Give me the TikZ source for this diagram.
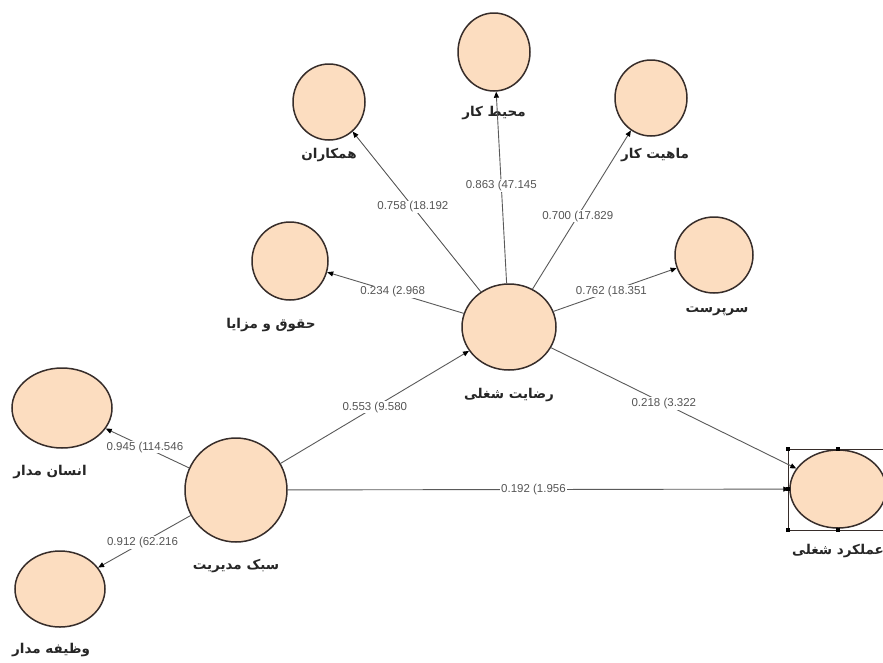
\documentclass[tikz,border=0pt]{standalone}
\usepackage{fontspec}
\setmainfont{Liberation Sans}
\newfontfamily\arabicfont[Script=Arabic]{DejaVu Sans}
\TeXXeTstate=1
\usetikzlibrary{shapes.geometric,arrows.meta}
\definecolor{peach}{RGB}{252,221,192}
\definecolor{rim}{RGB}{55,45,42}
\definecolor{wire}{RGB}{90,90,90}
\definecolor{numc}{RGB}{85,85,85}
\begin{document}
\begin{tikzpicture}[x=1pt,y=-1pt,
  lv/.style={ellipse,draw=rim,line width=1.5pt,fill=peach,inner sep=0pt},
  nm/.style={font=\arabicfont\bfseries\fontsize{13.5}{16}\selectfont,text=black!85},
  wt/.style={fill=white,inner sep=1pt,font=\fontsize{11.5}{13}\selectfont,text=numc},
  ar/.style={draw=wire,line width=0.9pt,-{Triangle[length=6pt,width=5pt,color=black]}},
  handle/.style={rectangle,fill=black,inner sep=0pt,minimum size=4pt}]
\useasboundingbox (0,0) rectangle (883,662);
\fill[white] (0,0) rectangle (883,662);
% latent variables
\node[lv,minimum width=72pt,minimum height=76pt] (ham) at (329,102) {};
\node[lv,minimum width=72pt,minimum height=78pt] (mohit) at (494,52) {};
\node[lv,minimum width=72pt,minimum height=76pt] (mahiat) at (651,98) {};
\node[lv,minimum width=76pt,minimum height=78pt] (hoghugh) at (290,261) {};
\node[lv,minimum width=78pt,minimum height=76pt] (sarparast) at (714,255) {};
\node[lv,minimum width=94pt,minimum height=86pt] (rezayat) at (509,327) {};
\node[lv,minimum width=100pt,minimum height=80pt] (ensan) at (62,408) {};
\node[lv,minimum width=102pt,minimum height=104pt] (sabk) at (236,490) {};
\node[lv,minimum width=90pt,minimum height=76pt] (vazife) at (60,589) {};
\node[lv,minimum width=96pt,minimum height=78pt] (amalkard) at (838,489) {};
% selection frame
\draw[rim,line width=0.6pt] (788,449) rectangle (892,530);
\node[handle] (h1) at (788,449) {};
\node[handle] (h2) at (838,449) {};
\node[handle] (h3) at (788,489) {};
\node[handle] (h4) at (788,530) {};
\node[handle] (h5) at (838,530) {};
% names
\node[nm] (tham) at (329,155) {\beginR همکاران\endR};
\node[nm] (tmohit) at (494,113) {\beginR محیط کار\endR};
\node[nm] (tmahiat) at (655,155) {\beginR ماهیت کار\endR};
\node[nm] (thoghugh) at (271,325) {\beginR حقوق و مزایا\endR};
\node[nm] (tsarparast) at (717,311) {\beginR سرپرست\endR};
\node[nm] (trezayat) at (509,395) {\beginR رضایت شغلی\endR};
\node[nm] (tensan) at (50,472) {\beginR انسان مدار\endR};
\node[nm] (tsabk) at (236,566) {\beginR سبک مدیریت\endR};
\node[nm] (tvazife) at (51,650) {\beginR وظیفه مدار\endR};
\node[nm] (tamalkard) at (838,551) {\beginR عملکرد شغلی\endR};
% paths
\draw[ar] (rezayat) -- node[wt,pos=0.53] (w1) {0.758 (18.192} (ham);
\draw[ar] (rezayat) -- node[wt,pos=0.51] (w2) {0.863 (47.145} (mohit);
\draw[ar] (rezayat) -- node[wt,pos=0.46] (w3) {0.700 (17.829} (mahiat);
\draw[ar] (rezayat) -- node[wt,pos=0.52] (w4) {0.234 (2.968} (hoghugh);
\draw[ar] (rezayat) -- node[wt,pos=0.47] (w5) {0.762 (18.351} (sarparast);
\draw[ar] (sabk) -- node[wt,pos=0.50] (w6) {0.553 (9.580} (rezayat);
\draw[ar] (rezayat) -- node[wt,pos=0.46] (w7) {0.218 (3.322} (amalkard);
\draw[ar] (sabk) -- node[wt,pos=0.49] (w8) {0.192 (1.956} (amalkard);
\draw[ar] (sabk) -- node[wt,pos=0.53] (w9) {0.945 (114.546} (ensan);
\draw[ar] (sabk) -- node[wt,pos=0.52] (w10) {0.912 (62.216} (vazife);
\end{tikzpicture}
\end{document}
